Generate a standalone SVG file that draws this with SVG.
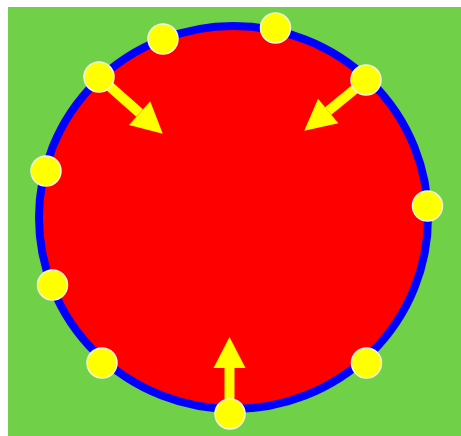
<svg xmlns="http://www.w3.org/2000/svg" width="461" height="436" viewBox="0 0 461 436">
<style>
.dot{fill:#ffff00;stroke:#f4f4d8;stroke-width:1.5}
.arrow{stroke:#ffff00;stroke-width:10;fill:none}
</style>
<defs>
<marker id="head" markerUnits="userSpaceOnUse" markerWidth="31" markerHeight="32" refX="0" refY="16" orient="auto" overflow="visible">
<path d="M0,0 L31,16 L0,32 z" fill="#ffff00"/>
</marker>
</defs>
<rect width="461" height="436" fill="#ffffff"/>
<rect x="8" y="7" width="453" height="429" fill="#70d048"/>
<g id="circle">
<ellipse cx="233.5" cy="217.5" rx="194.5" ry="191.5" fill="#ff0000" stroke="#0000ff" stroke-width="8"/>
</g>
<g id="connectors">
<line class="arrow" x1="99" y1="77" x2="139.6" y2="113.1" marker-end="url(#head)"/>
<line class="arrow" x1="366" y1="80" x2="328.2" y2="111" marker-end="url(#head)"/>
<line class="arrow" x1="229.5" y1="414" x2="229.5" y2="368" marker-end="url(#head)"/>
</g>
<g id="dot1"><circle class="dot" cx="163" cy="39" r="15"/></g>
<g id="dot2"><circle class="dot" cx="275.5" cy="28" r="15"/></g>
<g id="dot3"><circle class="dot" cx="99" cy="77" r="15"/></g>
<g id="dot4"><circle class="dot" cx="366" cy="80" r="15"/></g>
<g id="dot5"><circle class="dot" cx="46" cy="171" r="15"/></g>
<g id="dot6"><circle class="dot" cx="427.5" cy="206" r="15"/></g>
<g id="dot7"><circle class="dot" cx="52.5" cy="285" r="15"/></g>
<g id="dot8"><circle class="dot" cx="102" cy="363" r="15"/></g>
<g id="dot9"><circle class="dot" cx="366.5" cy="363" r="15"/></g>
<g id="dot10"><circle class="dot" cx="230" cy="414" r="15"/></g>
</svg>
